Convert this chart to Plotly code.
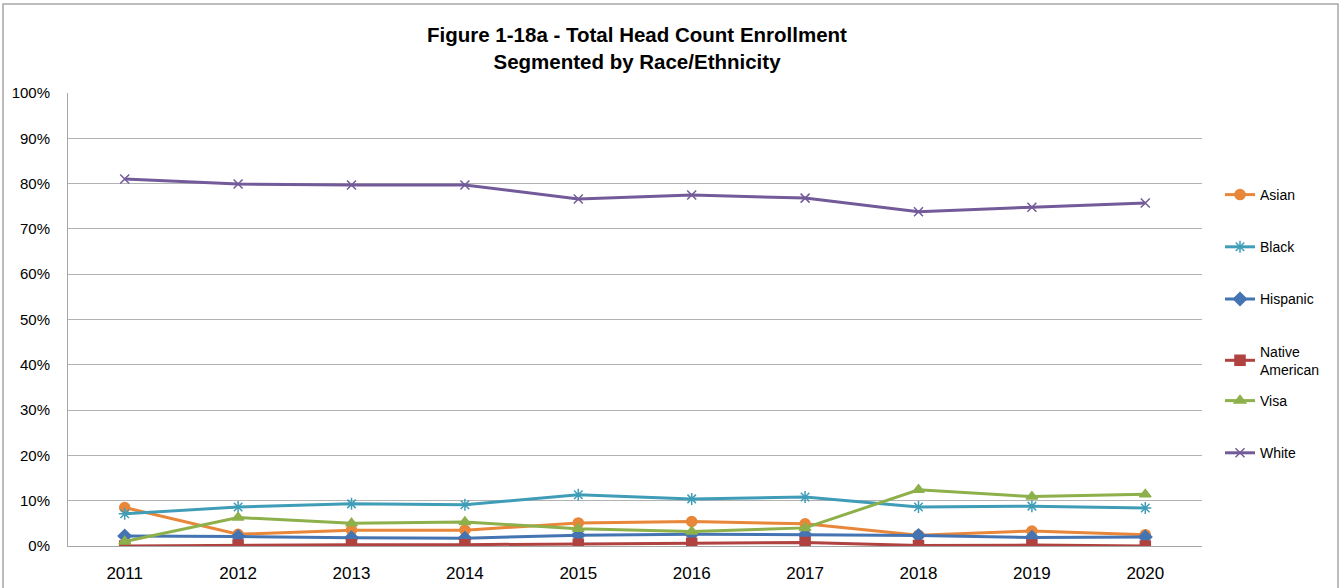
import plotly.graph_objects as go

years = ["2011", "2012", "2013", "2014", "2015", "2016", "2017", "2018", "2019", "2020"]
asian = [8.5, 2.6, 3.5, 3.5, 5.1, 5.4, 4.9, 2.4, 3.3, 2.5]
black = [7.1, 8.6, 9.3, 9.1, 11.3, 10.4, 10.8, 8.6, 8.8, 8.4]
hispanic = [2.2, 2.1, 1.8, 1.7, 2.4, 2.6, 2.5, 2.3, 1.9, 2.0]
native_american = [0.0, 0.2, 0.3, 0.3, 0.4, 0.6, 0.8, 0.1, 0.2, 0.0]
visa = [1.0, 6.3, 5.0, 5.3, 3.8, 3.2, 4.0, 12.4, 10.9, 11.4]
white = [81.0, 79.9, 79.7, 79.7, 76.6, 77.5, 76.8, 73.8, 74.8, 75.7]
y_ticks = [0, 10, 20, 30, 40, 50, 60, 70, 80, 90, 100]
y_tick_labels = ["0%", "10%", "20%", "30%", "40%", "50%", "60%", "70%", "80%", "90%", "100%"]

series = [
    ("Asian", asian, "#E8863A", "circle", 10, "legend"),
    ("Black", black, "#3F9DB8", "asterisk-open", 10, "legend"),
    ("Hispanic", hispanic, "#4574B2", "diamond", 10, "legend"),
    ("Native<br>American", native_american, "#B0423F", "square", 10, "legend"),
    ("Visa", visa, "#8DB04B", "triangle-up", 10, "legend2"),
    ("White", white, "#735A99", "x-thin-open", 9, "legend2"),
]

W, H = 1340, 588
PL, PR, PT, PB = 68, 1202, 93, 546
pw, ph = PR - PL, PB - PT

fig = go.Figure()
for i, (name, vals, color, sym, size, lg) in enumerate(series):
    fig.add_trace(go.Scatter(
        x=years, y=vals, name=name, mode="lines+markers",
        line=dict(color=color, width=3),
        marker=dict(symbol=sym, size=size, color=color,
                    line=dict(color=color, width=1.5)),
        legendgroup="g%d" % i, legend=lg,
    ))

legend_common = dict(xanchor="left", yanchor="top", font=dict(size=14),
                     tracegroupgap=31, bgcolor="rgba(0,0,0,0)")

fig.update_layout(
    width=W, height=H,
    margin=dict(l=PL, r=W - PR, t=PT, b=H - PB),
    paper_bgcolor="white", plot_bgcolor="white",
    font=dict(family="Liberation Sans, Arial, sans-serif", color="black"),
    title=dict(
        text="<b>Figure 1-18a - Total Head Count Enrollment<br>Segmented by Race/Ethnicity</b>",
        x=637 / W, xanchor="center", y=1 - 42 / H, yanchor="top",
        font=dict(size=20.5, color="black"),
    ),
    showlegend=True,
    legend=dict(x=1 + 18 / pw, y=(546 - 179) / 453, **legend_common),
    legend2=dict(x=1 + 18 / pw, y=(546 - 385) / 453, **legend_common),
    xaxis=dict(
        type="category", range=[-0.5, 9.5],
        showgrid=False, showline=True, linecolor="#a6a6a6", linewidth=1,
        ticks="", tickfont=dict(size=17), zeroline=False,
        ticklabelstandoff=12, automargin=False,
    ),
    yaxis=dict(
        range=[0, 100], tickvals=y_ticks, ticktext=y_tick_labels,
        showgrid=True, gridcolor="#b3b3b3", gridwidth=1,
        showline=True, linecolor="#a6a6a6", linewidth=1,
        ticks="", tickfont=dict(size=15), zeroline=False,
        ticklabelstandoff=14, automargin=False,
    ),
    shapes=[dict(type="rect", xref="paper", yref="paper",
                 x0=(3 - PL) / pw, x1=(1338 - PL) / pw,
                 y0=(PB - 620) / ph, y1=(PB - 4) / ph,
                 line=dict(color="#a6a6a6", width=1.5), layer="below")],
)

fig.write_html("out.html",
               config={"displayModeBar": False},
               post_script="document.body.style.margin='0px';document.body.style.overflow='hidden';")
